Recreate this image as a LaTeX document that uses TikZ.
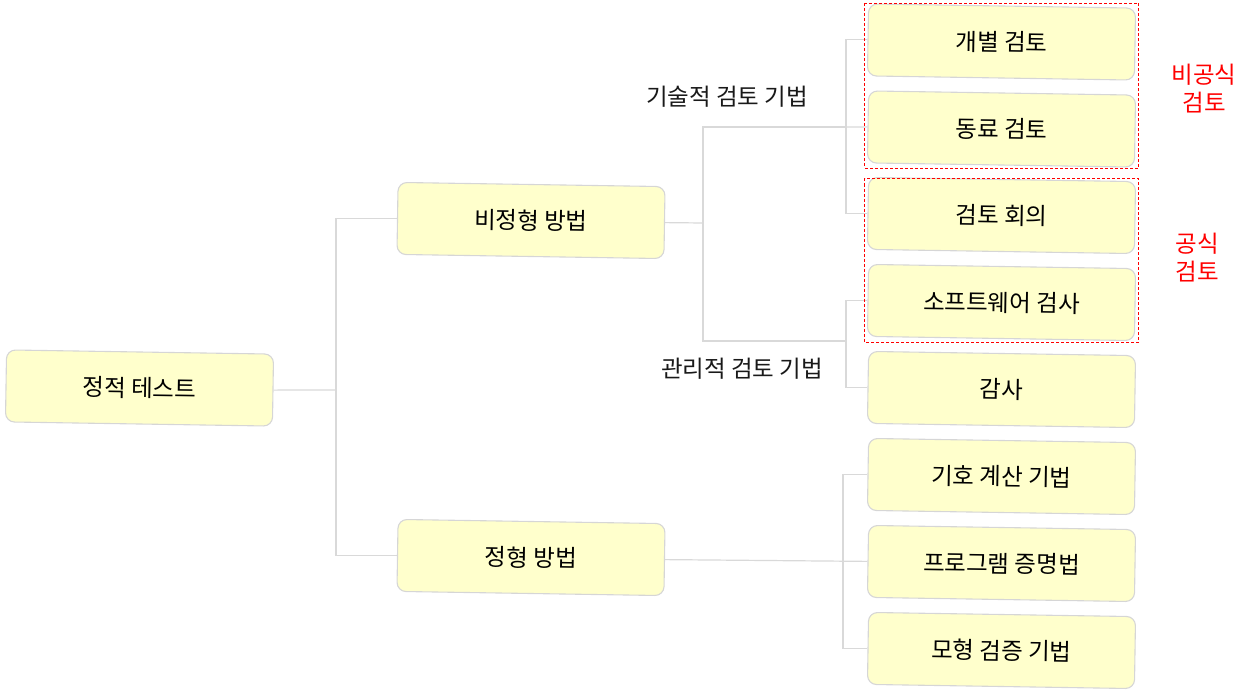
\documentclass[tikz,border=0pt]{standalone}
\usepackage{fontspec}
\setmainfont{Noto Sans CJK KR}
\usetikzlibrary{positioning}
\definecolor{boxfill}{HTML}{FFFFCC}
\definecolor{boxline}{HTML}{D6D6D6}
\definecolor{connline}{HTML}{D9D9D9}
\tikzset{
  item/.style={draw=boxline, fill=boxfill, line width=1.1pt, rounded corners=9pt,
    minimum width=267pt, minimum height=72pt, inner sep=0pt, rotate=-0.9,
    font=\fontsize{23.5}{28}\selectfont, text=black},
  conn/.style={draw=connline, line width=1.2pt},
  lbl/.style={font=\fontsize{23.5}{28}\selectfont, text=black!90, inner sep=0pt},
  redlbl/.style={font=\fontsize{23.5}{28}\selectfont, text=red, align=center, inner sep=0pt},
  grp/.style={draw=red, dash pattern=on 3pt off 2pt, line width=0.8pt}
}
\begin{document}
\begin{tikzpicture}[x=1pt,y=-1pt]
\useasboundingbox (0,0) rectangle (1248,690);
% nodes
\node[item] (root) at (139.5,388) {정적 테스트};
\node[item] (inf)  at (531,220.5) {비정형 방법};
\node[item] (form) at (531,557.5) {정형 방법};
\node[item] (n1) at (1001.5,42) {개별 검토};
\node[item] (n2) at (1001.5,129) {동료 검토};
\node[item] (n3) at (1001.5,215.5) {검토 회의};
\node[item] (n4) at (1001.5,302.5) {소프트웨어 검사};
\node[item] (n5) at (1001.5,389.5) {감사};
\node[item] (n6) at (1001.5,476.5) {기호 계산 기법};
\node[item] (n7) at (1001.5,563.5) {프로그램 증명법};
\node[item] (n8) at (1001.5,650.5) {모형 검증 기법};
% junctions
\coordinate (j1) at (336,390);
\coordinate (j2) at (703,223);
\coordinate (j3) at (846,127);
\coordinate (j4) at (846,341);
\coordinate (j5) at (843,561);
% connectors
\draw[conn] (root.east) -- (j1);
\draw[conn] (inf.west) -| (j1);
\draw[conn] (form.west) -| (j1);
\draw[conn] (inf.east) -- (j2);
\draw[conn] (j2) |- (j3);
\draw[conn] (j2) |- (j4);
\draw[conn] (j3) -- (n2.west);
\draw[conn] (n1.west) -| (j3);
\draw[conn] (n3.west) -| (j3);
\draw[conn] (n4.west) -| (j4);
\draw[conn] (n5.west) -| (j4);
\draw[conn] (form.east) -- (n7.west);
\draw[conn] (n6.west) -| (j5);
\draw[conn] (n8.west) -| (j5);
% labels
\node[lbl] (tech) at (727,97) {기술적 검토 기법};
\node[lbl] (mgmt) at (742,369) {관리적 검토 기법};
% groups
\draw[grp] (864.5,3.5) rectangle (1138.5,168);
\draw[grp] (864.5,178.5) rectangle (1138.5,342);
\node[redlbl] (informal) at (1204,89) {비공식\\검토};
\node[redlbl] (formal) at (1197,258) {공식\\검토};
\end{tikzpicture}
\end{document}
